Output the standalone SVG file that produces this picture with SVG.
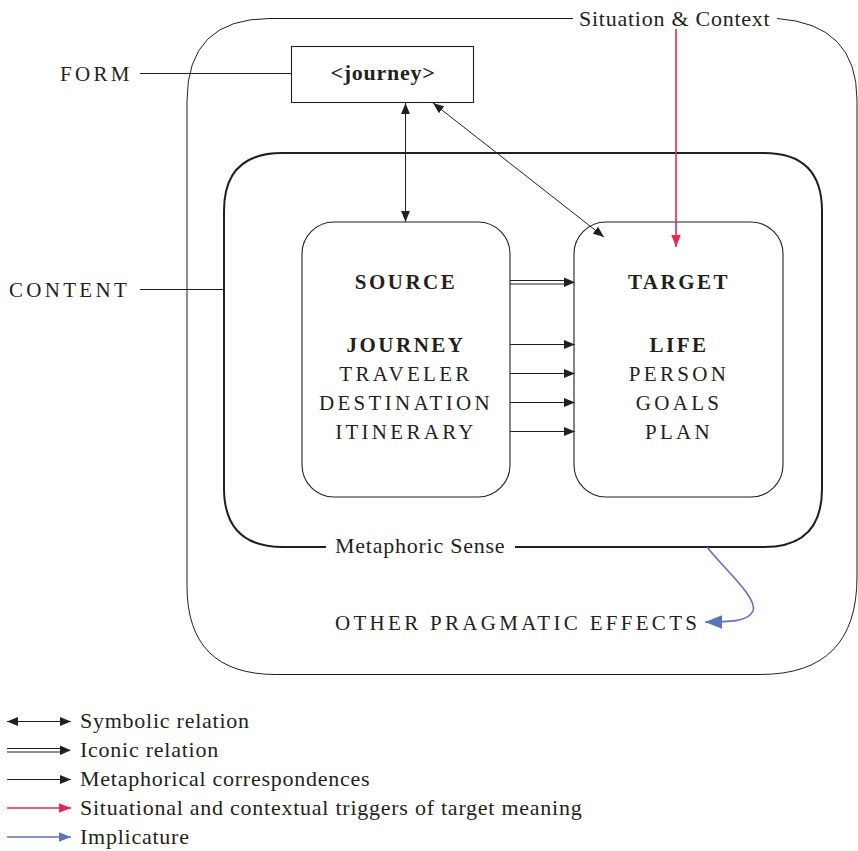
<svg xmlns="http://www.w3.org/2000/svg" width="858" height="851" viewBox="0 0 858 851">
  <style>
    text { font-family: "Liberation Serif", "Times New Roman", serif; fill: #231f20; }
    .lbl { font-size: 22px; letter-spacing: 0.75px; }
    .caps { font-size: 21px; letter-spacing: 3.3px; }
    .head { font-size: 21px; font-weight: bold; letter-spacing: 2.5px; }
    .thin { fill: none; stroke: #231f20; stroke-width: 1; }
    .thick { fill: none; stroke: #231f20; stroke-width: 2; }
    .box { fill: #fff; stroke: #231f20; stroke-width: 1.1; }
    .red { stroke: #e8284f; stroke-width: 1.6; fill: none; }
    .blue { stroke: #5b72bf; stroke-width: 1.6; fill: none; }
  </style>
  <defs>
    <marker id="ah" viewBox="0 0 10 8" refX="10" refY="4" markerWidth="11" markerHeight="9" markerUnits="userSpaceOnUse" orient="auto-start-reverse">
      <path d="M0,0 L10,4 L0,8 Z" fill="#231f20"/>
    </marker>
    <marker id="ahRed" viewBox="0 0 10 8" refX="10" refY="4" markerWidth="12" markerHeight="10" markerUnits="userSpaceOnUse" orient="auto">
      <path d="M0,0 L10,4 L0,8 Z" fill="#e8284f"/>
    </marker>
    <marker id="ahBlue" viewBox="0 0 10 8" refX="10" refY="4" markerWidth="17" markerHeight="14" markerUnits="userSpaceOnUse" orient="auto">
      <path d="M0,0 L10,4 L0,8 Z" fill="#5b72bf"/>
    </marker>
    <marker id="ahBlueSm" viewBox="0 0 10 8" refX="10" refY="4" markerWidth="12" markerHeight="10" markerUnits="userSpaceOnUse" orient="auto">
      <path d="M0,0 L10,4 L0,8 Z" fill="#5b72bf"/>
    </marker>
  </defs>

  <!-- Situation & Context frame (gap left for its label) -->
  <g id="situation">
    <path class="thin" d="M573,18.5 L270,18.5 Q187,18.5 187,101 L187,586 Q187,674.5 276,674.5 L760,674.5 Q857,674.5 857,577 L857,100 Q857,24 777,18.5"/>
    <text class="lbl" x="579" y="26">Situation &amp; Context</text>
  </g>

  <!-- Content frame: metaphoric sense -->
  <g id="content">
    <path class="thick" d="M326,547 L283,547 Q224,547 224,488 L224,211 Q224,153 282,153 L764,153 Q822,153 822,211 L822,489 Q822,547 764,547 L515,547"/>
    <text class="lbl" x="335" y="553">Metaphoric Sense</text>
  </g>

  <!-- Form node -->
  <g id="form">
    <rect class="box" x="291.5" y="46.5" width="182" height="56"/>
    <text class="lbl" x="383" y="80" text-anchor="middle" font-weight="bold">&lt;journey&gt;</text>
  </g>

  <!-- Source domain -->
  <g id="source">
    <rect class="box" x="302" y="222" width="208" height="275" rx="32"/>
    <text class="head" x="406" y="289" text-anchor="middle">SOURCE</text>
    <text class="head" x="406" y="352" text-anchor="middle">JOURNEY</text>
    <text class="caps" x="406" y="381" text-anchor="middle">TRAVELER</text>
    <text class="caps" x="406" y="410" text-anchor="middle">DESTINATION</text>
    <text class="caps" x="406" y="439" text-anchor="middle">ITINERARY</text>
  </g>

  <!-- Target domain -->
  <g id="target">
    <rect class="box" x="574" y="222" width="209" height="275" rx="32"/>
    <text class="head" x="679" y="289" text-anchor="middle">TARGET</text>
    <text class="head" x="679" y="352" text-anchor="middle">LIFE</text>
    <text class="caps" x="679" y="381" text-anchor="middle">PERSON</text>
    <text class="caps" x="679" y="410" text-anchor="middle">GOALS</text>
    <text class="caps" x="679" y="439" text-anchor="middle">PLAN</text>
  </g>

  <!-- Side labels -->
  <g id="labels">
    <text class="caps" x="60" y="81">FORM</text>
    <text class="caps" x="9" y="297">CONTENT</text>
    <text class="caps" x="335" y="630">OTHER PRAGMATIC EFFECTS</text>
  </g>

  <!-- Connectors -->
  <g id="connectors">
    <line class="thin" x1="140" y1="73.5" x2="291.5" y2="73.5"/>
    <line class="thin" x1="140" y1="289.5" x2="224" y2="289.5"/>
    <!-- symbolic relations -->
    <line class="thin" x1="405.5" y1="103" x2="405.5" y2="222" marker-start="url(#ah)" marker-end="url(#ah)"/>
    <line class="thin" x1="433" y1="103" x2="604" y2="237" marker-start="url(#ah)" marker-end="url(#ah)"/>
    <!-- iconic relation -->
    <line class="thin" x1="510" y1="280.5" x2="566" y2="280.5"/>
    <line class="thin" x1="510" y1="284" x2="566" y2="284"/>
    <path d="M564,277.5 L575,282.3 L564,287 Z" fill="#231f20"/>
    <!-- metaphorical correspondences -->
    <line class="thin" x1="510" y1="344.5" x2="575" y2="344.5" marker-end="url(#ah)"/>
    <line class="thin" x1="510" y1="373.5" x2="575" y2="373.5" marker-end="url(#ah)"/>
    <line class="thin" x1="510" y1="402.5" x2="575" y2="402.5" marker-end="url(#ah)"/>
    <line class="thin" x1="510" y1="431.5" x2="575" y2="431.5" marker-end="url(#ah)"/>
    <!-- contextual trigger -->
    <line class="red" x1="676" y1="29" x2="676" y2="247" marker-end="url(#ahRed)"/>
    <!-- implicature -->
    <path class="blue" d="M707,547 C725,570 758,598 753,611 C748,622 728,622 705,622" marker-end="url(#ahBlue)"/>
  </g>

  <!-- Legend -->
  <g id="legend">
    <line class="thin" x1="7" y1="721.5" x2="71" y2="721.5" marker-start="url(#ah)" marker-end="url(#ah)"/>
    <line class="thin" x1="7" y1="748.5" x2="62" y2="748.5"/>
    <line class="thin" x1="7" y1="752" x2="62" y2="752"/>
    <path d="M60,745.5 L71,750.3 L60,755 Z" fill="#231f20"/>
    <line class="thin" x1="7" y1="779.5" x2="71" y2="779.5" marker-end="url(#ah)"/>
    <line class="red" x1="7" y1="808" x2="71" y2="808" marker-end="url(#ahRed)"/>
    <line class="blue" x1="7" y1="837" x2="71" y2="837" marker-end="url(#ahBlueSm)"/>
    <text class="lbl" x="80" y="728">Symbolic relation</text>
    <text class="lbl" x="80" y="757">Iconic relation</text>
    <text class="lbl" x="80" y="786">Metaphorical correspondences</text>
    <text class="lbl" x="80" y="815">Situational and contextual triggers of target meaning</text>
    <text class="lbl" x="80" y="844">Implicature</text>
  </g>
</svg>
